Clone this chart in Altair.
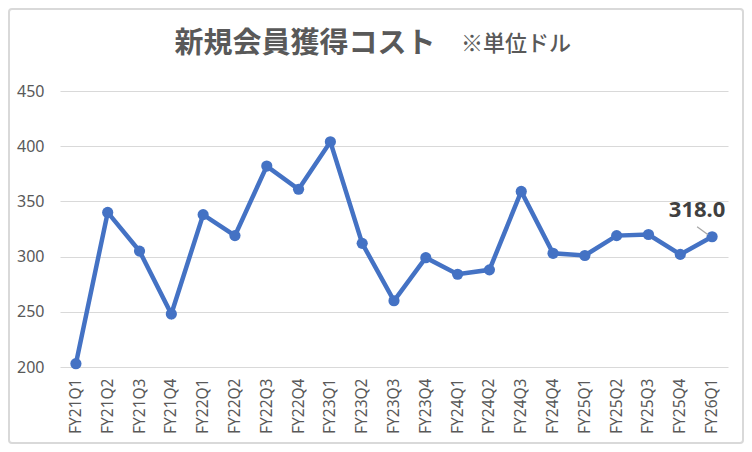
import altair as alt
import pandas as pd

periods = ["FY21Q1", "FY21Q2", "FY21Q3", "FY21Q4", "FY22Q1", "FY22Q2", "FY22Q3",
           "FY22Q4", "FY23Q1", "FY23Q2", "FY23Q3", "FY23Q4", "FY24Q1", "FY24Q2",
           "FY24Q3", "FY24Q4", "FY25Q1", "FY25Q2", "FY25Q3", "FY25Q4", "FY26Q1"]
costs = [203, 340, 305, 248, 338, 319, 382, 361, 404, 312, 260, 299, 284, 288,
         359, 303, 301, 319, 320, 302, 318.0]
y_ticks = [200, 250, 300, 350, 400, 450]
title_main = "新規会員獲得コスト"
title_unit = "※単位ドル"

df = pd.DataFrame({"period": periods, "cost": costs})
last = df.tail(1)

W, H = 668, 276
BLUE = "#4472C4"
GRAY = "#595959"

x_enc = alt.X("period:N", sort=periods, title=None,
              axis=alt.Axis(labelAngle=-90, labelFontSize=15.5, labelColor=GRAY,
                            labelFont="Noto Sans", labelPadding=11,
                            domain=False, ticks=False, grid=False))
y_enc = alt.Y("cost:Q", title=None,
              scale=alt.Scale(domain=[200, 450], nice=False, zero=False),
              axis=alt.Axis(values=y_ticks, labelFontSize=16, labelColor=GRAY,
                            labelFont="Noto Sans", labelPadding=16,
                            domain=False, ticks=False, grid=True,
                            gridColor="#d9d9d9", gridWidth=1.2))

one = alt.Data(values=[{"a": 1}])

line = alt.Chart(df).mark_line(
    color=BLUE, strokeWidth=4.5,
    point=alt.OverlayMarkDef(color=BLUE, size=125, filled=True, opacity=1)
).encode(x=x_enc, y=y_enc)

border = alt.Chart(one).mark_rect(
    filled=False, stroke="#d9d9d9", strokeWidth=2, cornerRadius=3
).encode(x=alt.value(-51), x2=alt.value(W + 15), y=alt.value(-82), y2=alt.value(H + 76))

leader = alt.Chart(last).mark_rule(
    color="#a6a6a6", strokeWidth=1.2, xOffset=-15, yOffset=-10, x2Offset=-4, y2Offset=-2
).encode(x=alt.X("period:N", sort=periods), x2="period:N",
         y="cost:Q", y2="cost:Q")

label = alt.Chart(last).mark_text(
    font="Noto Sans", fontSize=22, fontWeight="bold", color="#404040",
    dx=-15, dy=-20, baseline="alphabetic"
).encode(x=alt.X("period:N", sort=periods), y="cost:Q",
         text=alt.Text("cost:Q", format=".1f"))

t1 = alt.Chart(one).mark_text(
    font="Noto Sans CJK JP", fontSize=29, fontWeight="bold", color=GRAY,
    align="center", baseline="alphabetic"
).encode(x=alt.value(245), y=alt.value(-38), text=alt.value(title_main))

t2 = alt.Chart(one).mark_text(
    font="Noto Sans CJK JP", fontSize=22, fontWeight=500, color=GRAY,
    align="left", baseline="alphabetic"
).encode(x=alt.value(401), y=alt.value(-40), text=alt.value(title_unit))

chart = alt.layer(line, border, leader, label, t1, t2).properties(
    width=W, height=H,
    background="white",
    autosize=alt.AutoSizeParams(type="none"),
    padding={"left": 52, "top": 83, "right": 16, "bottom": 77},
).configure_view(strokeWidth=0)

chart.save("out.html", embed_options={"renderer": "svg", "actions": False})
